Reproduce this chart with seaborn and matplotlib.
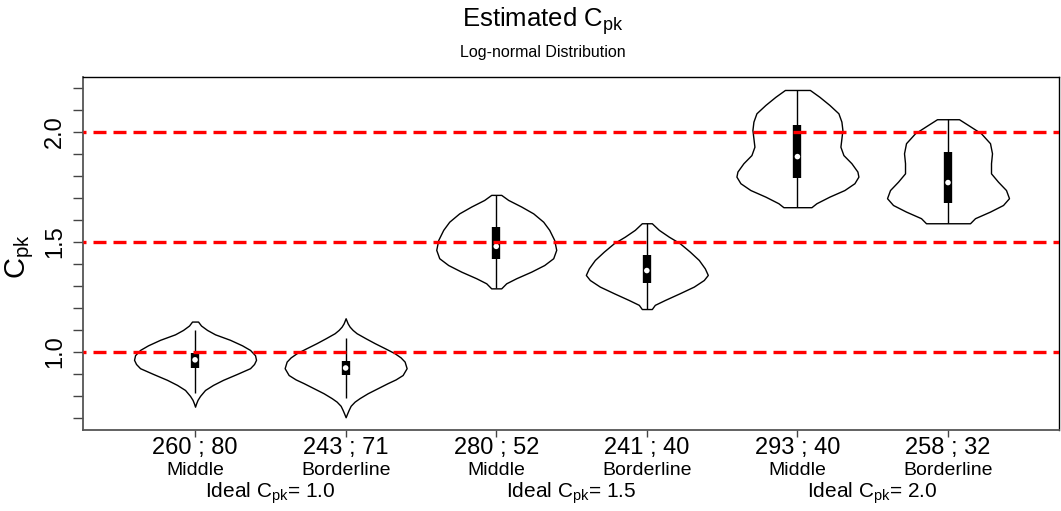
import numpy as np
import matplotlib
matplotlib.use("Agg")
import matplotlib.pyplot as plt
import seaborn as sns

# ---------------- data ----------------
counts = ["260 ; 80", "243 ; 71", "280 ; 52", "241 ; 40", "293 ; 40", "258 ; 32"]
positions_lbl = ["Middle", "Borderline", "Middle", "Borderline", "Middle", "Borderline"]
groups = ["1.0", "1.5", "2.0"]
ref_lines = [1.0, 1.5, 2.0]

# violin outlines: Cpk level and relative density (half-width, max ~61)
v1_y = [1.138, 1.12, 1.10, 1.08, 1.055, 1.03, 1.009, 0.985, 0.964, 0.945, 0.926, 0.90, 0.873, 0.85, 0.827, 0.80, 0.782, 0.765, 0.751]
v1_d = [3, 6, 12, 20, 35, 47, 55, 60, 61, 59, 55, 42, 28, 18, 10, 5, 2.5, 1, 0]
v2_y = [1.153, 1.13, 1.115, 1.10, 1.085, 1.062, 1.04, 1.015, 0.994, 0.975, 0.956, 0.926, 0.895, 0.875, 0.858, 0.835, 0.812, 0.79, 0.774, 0.755, 0.736, 0.72, 0.703]
v2_d = [0, 2, 4, 7, 11, 20, 29, 40, 49, 55, 59, 61, 57, 50, 42, 32, 22, 14, 9, 5, 3, 1.5, 0]
v3_y = [1.714, 1.691, 1.661, 1.630, 1.592, 1.555, 1.509, 1.464, 1.426, 1.395, 1.365, 1.335, 1.312, 1.289]
v3_d = [5, 12, 25, 37, 47, 53, 58, 60, 57, 48, 35, 20, 10, 5]
v4_y = [1.585, 1.555, 1.524, 1.494, 1.456, 1.418, 1.380, 1.35, 1.327, 1.297, 1.267, 1.236, 1.214, 1.195]
v4_d = [5, 12, 22, 33, 43, 52, 58, 61, 57, 47, 33, 18, 8, 5]
v5_y = [2.191, 2.160, 2.123, 2.085, 2.047, 2.009, 1.971, 1.933, 1.895, 1.858, 1.820, 1.797, 1.767, 1.736, 1.706, 1.676, 1.658]
v5_d = [12.5, 22, 32, 41, 44, 45, 44, 43, 46, 54, 60, 61, 57, 47, 32, 19, 14]
v6_y = [2.058, 2.032, 1.994, 1.949, 1.903, 1.858, 1.812, 1.774, 1.736, 1.699, 1.668, 1.638, 1.608, 1.585]
v6_d = [11, 20, 33, 42, 44, 43, 43, 50, 58, 61, 55, 42, 27, 22]

# box summaries
q1 = [0.927, 0.895, 1.423, 1.315, 1.79, 1.679]
q3 = [0.997, 0.959, 1.567, 1.44, 2.03, 1.908]
med = [0.964, 0.927, 1.48, 1.37, 1.888, 1.77]
wlo = [0.815, 0.79, 1.289, 1.195, 1.658, 1.585]
whi = [1.10, 1.064, 1.714, 1.585, 2.191, 2.058]

outlines = [(v1_y, v1_d), (v2_y, v2_d), (v3_y, v3_d), (v4_y, v4_d), (v5_y, v5_d), (v6_y, v6_d)]

# ---------------- style ----------------
sns.set_theme(style="white")
plt.rcParams["font.family"] = ["Liberation Sans", "DejaVu Sans"]
plt.rcParams["mathtext.fontset"] = "custom"
plt.rcParams["mathtext.rm"] = "Liberation Sans"
plt.rcParams["mathtext.it"] = "Liberation Sans"
plt.rcParams["mathtext.bf"] = "Liberation Sans:bold"
for k in ["text.color", "axes.labelcolor", "xtick.color", "ytick.color"]:
    plt.rcParams[k] = "black"

fig = plt.figure(figsize=(10.61, 5.11), dpi=100)
W, H = 1061, 511
ax = fig.add_axes([83 / W, 1 - 430 / H, (1059 - 83) / W, (430 - 77) / H])

xpos = np.arange(1, len(counts) + 1)
half_max = 0.405
for x, (ys, ds) in zip(xpos, outlines):
    ys = np.asarray(ys)
    w = np.asarray(ds) / 61.0 * half_max
    ax.fill_betweenx(ys, x - w, x + w, facecolor="white", edgecolor="black", lw=1.0, zorder=2)

ax.vlines(xpos, wlo, whi, color="black", lw=1.0, zorder=3)
ax.vlines(xpos, q1, q3, color="black", lw=6.0, zorder=3)
sns.scatterplot(x=xpos, y=med, color="white", s=16, edgecolor="none", zorder=4, ax=ax, legend=False)

for r in ref_lines:
    ax.axhline(r, color="red", lw=2.4, linestyle=(3.0, (3.9, 2.1)), zorder=5)

ax.set_xlim(0.256, 6.737)
ax.set_ylim(0.645, 2.25)

yt = np.round(np.arange(0.7, 2.21, 0.1), 1)
ax.set_yticks(yt)
ax.set_yticklabels([f"{t:.1f}" if t in (1.0, 1.5, 2.0) else "" for t in yt],
                   rotation=90, va="center", fontsize=17)
ax.set_xticks(xpos)
ax.set_xticklabels([])
ax.tick_params(axis="both", direction="out", length=7, width=1, color="#444444",
               left=True, bottom=True)
ax.tick_params(axis="x", length=5)
ax.tick_params(axis="y", pad=5)

for s in ax.spines.values():
    s.set_color("black")
    s.set_linewidth(1.0)
for s in ("left", "bottom"):
    ax.spines[s].set_color("#555555")
    ax.spines[s].set_linewidth(1.3)

def fy(py):
    # figure-pixel row -> axes fraction
    return (430 - py) / (430 - 77)

tr = ax.get_xaxis_transform()
for x, c, lbl in zip(xpos, counts, positions_lbl):
    ax.text(x, fy(448), c, transform=tr, ha="center", va="center", fontsize=17)
    ax.text(x, fy(470.5), lbl, transform=tr, ha="center", va="center", fontsize=14)
for i, g in enumerate(groups):
    ax.text(xpos[2 * i] + 0.5, fy(493), r"Ideal $\mathregular{C_{pk}}$= " + g, transform=tr,
            ha="center", va="center", fontsize=15)

fig.text(20 / W, 1 - 257 / H, r"$\mathregular{C_{pk}}$", rotation=90, ha="center", va="center", fontsize=21)
fig.text(543 / W, 1 - 21 / H, r"Estimated $\mathregular{C_{pk}}$", ha="center", va="center", fontsize=18.5)
fig.text(543 / W, 1 - 52 / H, "Log-normal Distribution", ha="center", va="center", fontsize=11.5)

fig.savefig("out.png", dpi=100)
